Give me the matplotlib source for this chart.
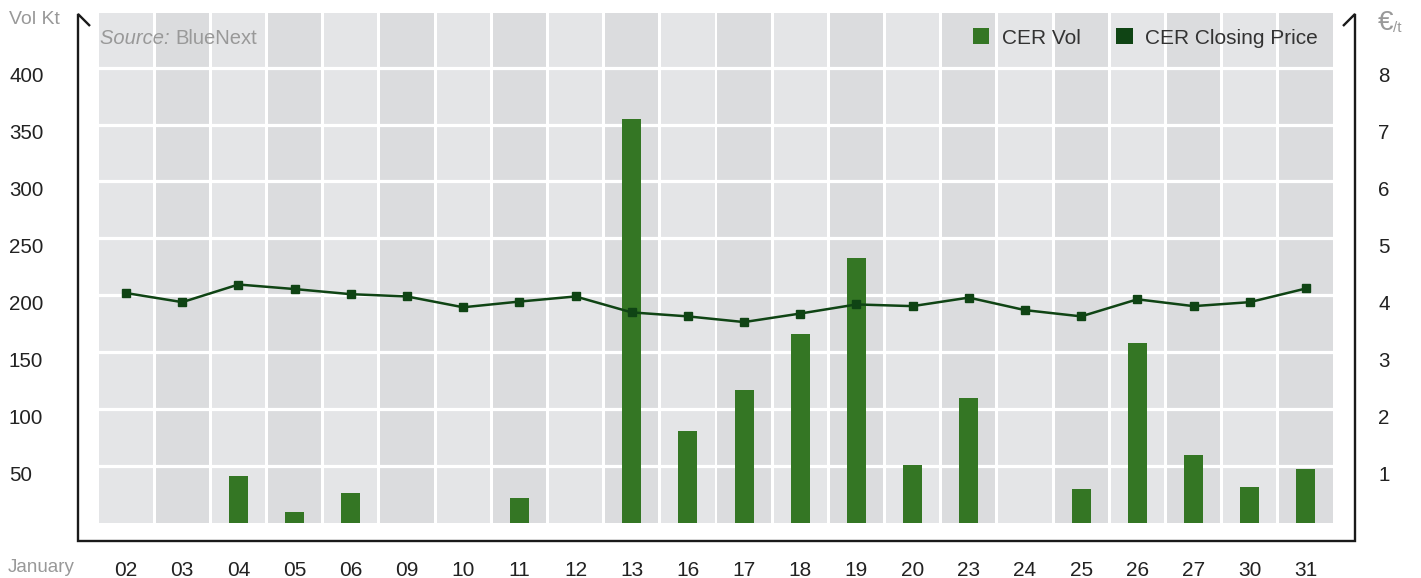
import numpy as np
import matplotlib.pyplot as plt
from matplotlib.lines import Line2D
from matplotlib.patches import Patch
from matplotlib.transforms import blended_transform_factory

plt.rcParams['font.family'] = ['Liberation Sans', 'DejaVu Sans']

# data
days = ['02', '03', '04', '05', '06', '09', '10', '11', '12', '13', '16',
        '17', '18', '19', '20', '23', '24', '25', '26', '27', '30', '31']
cer_vol = [0, 0, 41, 10, 26, 0, 0, 22, 0, 355, 81,
           117, 166, 233, 51, 110, 0, 30, 158, 60, 32, 47]
cer_price = [4.04, 3.88, 4.19, 4.11, 4.02, 3.98, 3.79, 3.89, 3.98, 3.70, 3.63,
             3.53, 3.68, 3.84, 3.81, 3.96, 3.74, 3.63, 3.93, 3.81, 3.88, 4.12]
vol_ticks = [50, 100, 150, 200, 250, 300, 350, 400]
price_ticks = [1, 2, 3, 4, 5, 6, 7, 8]

W, H = 1421, 578
VOL_MAX = 448
BAR_GREEN = '#347624'
LINE_GREEN = '#0f4414'
GREY = '#999999'
DARK = '#222222'


def fx(px):
    return px / W


def fy(py):
    return 1 - py / H


fig = plt.figure(figsize=(W / 100, H / 100), dpi=100)
ax = fig.add_axes([fx(98), fy(523), fx(1334) - fx(98), fy(13) - fy(523)])
x = np.arange(len(days))

# alternating background columns, white gaps between them
band_cols = ['#e4e5e7' if i % 2 == 0 else '#dbdcde' for i in x]
ax.bar(x, VOL_MAX, width=0.947, bottom=0, color=band_cols, zorder=0)
for v in vol_ticks:
    ax.axhline(v, color='white', lw=2.3, zorder=1)

ax.bar(x, cer_vol, width=0.34, color=BAR_GREEN, zorder=2)
ax.set_xlim(-0.5, len(days) - 0.5)
ax.set_ylim(0, VOL_MAX)

ax2 = ax.twinx()
ax2.plot(x, cer_price, color=LINE_GREEN, lw=1.8, marker='s', ms=5.5,
         zorder=3)
ax2.set_ylim(0, VOL_MAX / 50)

for a in (ax, ax2):
    a.set_yticks([])
    for s in a.spines.values():
        s.set_visible(False)
    a.set_facecolor('none')

ax.set_xticks(x, days)
ax.tick_params(axis='x', length=0, pad=27, labelsize=15, labelcolor=DARK)

# y tick labels sit just below their gridline
left_tr = blended_transform_factory(fig.transFigure, ax.transData)
right_tr = blended_transform_factory(fig.transFigure, ax2.transData)
for v in vol_ticks:
    ax.text(fx(9), v - 8, str(v), transform=left_tr,
            ha='left', va='center', fontsize=14.8, color=DARK)
for v in price_ticks:
    ax2.text(fx(1384), v - 0.16, str(v), transform=right_tr,
             ha='center', va='center', fontsize=14.8, color=DARK)

fig.text(fx(9), fy(20), 'Vol Kt', fontsize=14, color=GREY, ha='left', va='center')
fig.text(fx(1378), fy(23), '€', fontsize=20, color=GREY, ha='left', va='center')
fig.text(fx(1393), fy(28), '/t', fontsize=11, color=GREY, ha='left', va='center')
fig.text(fx(8), fy(568), 'January', fontsize=13.5, color=GREY, ha='left', va='center')

src = fig.text(fx(100), fy(38), 'Source: ', fontsize=14.5, color=GREY,
               style='italic', ha='left', va='center')
fig.add_artist(plt.Annotation('BlueNext', xy=(1, 0.5), xycoords=src,
                              fontsize=14.5, color=GREY, ha='left', va='center'))

handles = [Patch(facecolor=BAR_GREEN, label='CER Vol'),
           Patch(facecolor=LINE_GREEN, label='CER Closing Price')]
fig.legend(handles=handles, loc='center right', bbox_to_anchor=(fx(1318), fy(38)),
           ncol=2, frameon=False, fontsize=15, handlelength=0.8, handleheight=0.8,
           handletextpad=0.6, columnspacing=1.7, labelcolor='#333333',
           borderpad=0, borderaxespad=0)

# open frame with small hooks at the top
frame = dict(color='#1a1a1a', lw=1.7, solid_capstyle='butt', solid_joinstyle='miter')
fig.add_artist(Line2D([fx(90), fx(78), fx(78), fx(1355), fx(1355), fx(1343)],
                      [fy(26), fy(14), fy(541), fy(541), fy(14), fy(26)], **frame))

fig.savefig('out.png', dpi=100, facecolor='white')
